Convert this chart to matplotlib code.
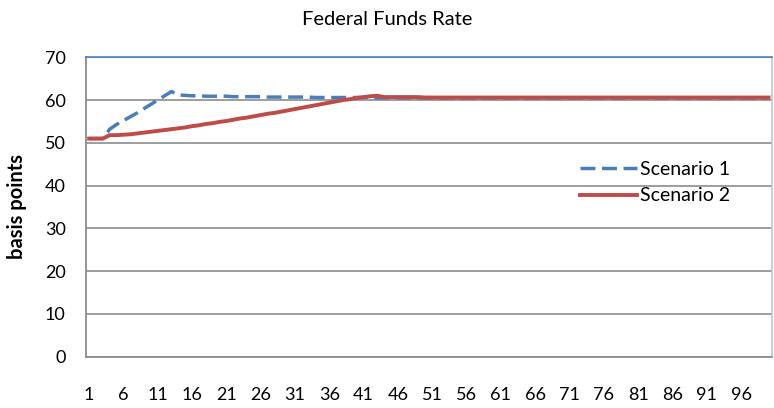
import matplotlib
matplotlib.use('Agg')
import matplotlib.pyplot as plt
import numpy as np

plt.rcParams['font.family'] = ['Lato', 'DejaVu Sans']

periods = list(range(1, 101))

scenario1 = [51.0, 51.0, 51.0, 53.2, 54.3, 55.2, 56.1, 57.0, 58.0, 59.0,
             60.0, 61.0, 62.0, 61.2, 61.1, 61.0, 61.0, 60.9, 60.9, 60.9,
             60.9, 60.8, 60.8, 60.8, 60.8, 60.8, 60.7, 60.7, 60.7, 60.7,
             60.7, 60.7, 60.7, 60.6, 60.6, 60.6, 60.6, 60.6, 60.6, 60.6,
             60.6, 60.6, 60.5, 60.5, 60.5, 60.5, 60.5, 60.5, 60.5, 60.5,
             60.5, 60.5, 60.5, 60.5, 60.5, 60.5, 60.5, 60.5, 60.5, 60.5,
             60.5, 60.5, 60.5, 60.5, 60.5, 60.5, 60.5, 60.5, 60.5, 60.5,
             60.5, 60.5, 60.5, 60.5, 60.5, 60.5, 60.5, 60.5, 60.5, 60.5,
             60.5, 60.5, 60.5, 60.5, 60.5, 60.5, 60.5, 60.5, 60.5, 60.5,
             60.5, 60.5, 60.5, 60.5, 60.5, 60.5, 60.5, 60.5, 60.5, 60.5]

scenario2 = [51.0, 51.0, 51.0, 51.8, 51.8, 51.9, 52.0, 52.2, 52.4, 52.6,
             52.8, 53.0, 53.2, 53.4, 53.6, 53.9, 54.1, 54.4, 54.6, 54.9,
             55.1, 55.4, 55.7, 55.9, 56.2, 56.5, 56.8, 57.0, 57.3, 57.6,
             57.9, 58.2, 58.5, 58.8, 59.1, 59.4, 59.7, 60.0, 60.2, 60.5,
             60.7, 60.9, 61.0, 60.7, 60.7, 60.7, 60.7, 60.7, 60.7, 60.6,
             60.6, 60.6, 60.6, 60.6, 60.6, 60.6, 60.6, 60.6, 60.6, 60.6,
             60.6, 60.6, 60.6, 60.6, 60.6, 60.6, 60.6, 60.6, 60.6, 60.6,
             60.6, 60.6, 60.6, 60.6, 60.6, 60.6, 60.6, 60.6, 60.6, 60.6,
             60.6, 60.6, 60.6, 60.6, 60.6, 60.6, 60.6, 60.6, 60.6, 60.6,
             60.6, 60.6, 60.6, 60.6, 60.6, 60.6, 60.6, 60.6, 60.6, 60.6]

xticks = list(range(1, 100, 5))
yticks = [0, 10, 20, 30, 40, 50, 60, 70]

W, H = 774, 408
fig = plt.figure(figsize=(W / 100, H / 100), dpi=100)
ax = fig.add_axes([85.7 / W, 1 - 356.7 / H, (772 - 85.7) / W, (356.7 - 57.3) / H])

ax.plot(periods, scenario1, color='#4A7EBB', lw=2.5, linestyle=(0, (4.3, 1.9)),
        label='Scenario 1')
ax.plot(periods, scenario2, color='#BE4B48', lw=2.8, label='Scenario 2')

ax.set_xlim(0.5, 100.5)
ax.set_ylim(0, 70)
ax.set_xticks(xticks)
ax.set_yticks(yticks)
ax.tick_params(axis='both', length=0, labelsize=13, colors='#000000')
ax.tick_params(axis='x', pad=21.5)
ax.tick_params(axis='y', pad=14.4)
ax.grid(axis='y', color='#8C8C8C', lw=1.2)
ax.set_axisbelow(True)

for s in ['left', 'bottom']:
    ax.spines[s].set_color('#8C8C8C')
    ax.spines[s].set_linewidth(1.3)
ax.spines['top'].set_color('#4F81BD')
ax.spines['top'].set_linewidth(1.2)
ax.spines['right'].set_color('#B9C9DA')
ax.spines['right'].set_linewidth(1.2)

fig.text(17.5 / W, 1 - 206.5 / H, 'basis points', rotation=90, ha='center',
         va='center', fontsize=14.5, fontweight='bold')
fig.text(0.5, 1 - 19.5 / H, 'Federal Funds Rate', ha='center', va='center',
         fontsize=14.5)

ax.legend(loc='center left', bbox_to_anchor=(580 / W, 1 - 182.5 / H),
          bbox_transform=fig.transFigure, frameon=False, fontsize=14,
          handlelength=2.92, handletextpad=0.17, labelspacing=0.5,
          borderpad=0, borderaxespad=0)

fig.savefig('out.png', dpi=100)
